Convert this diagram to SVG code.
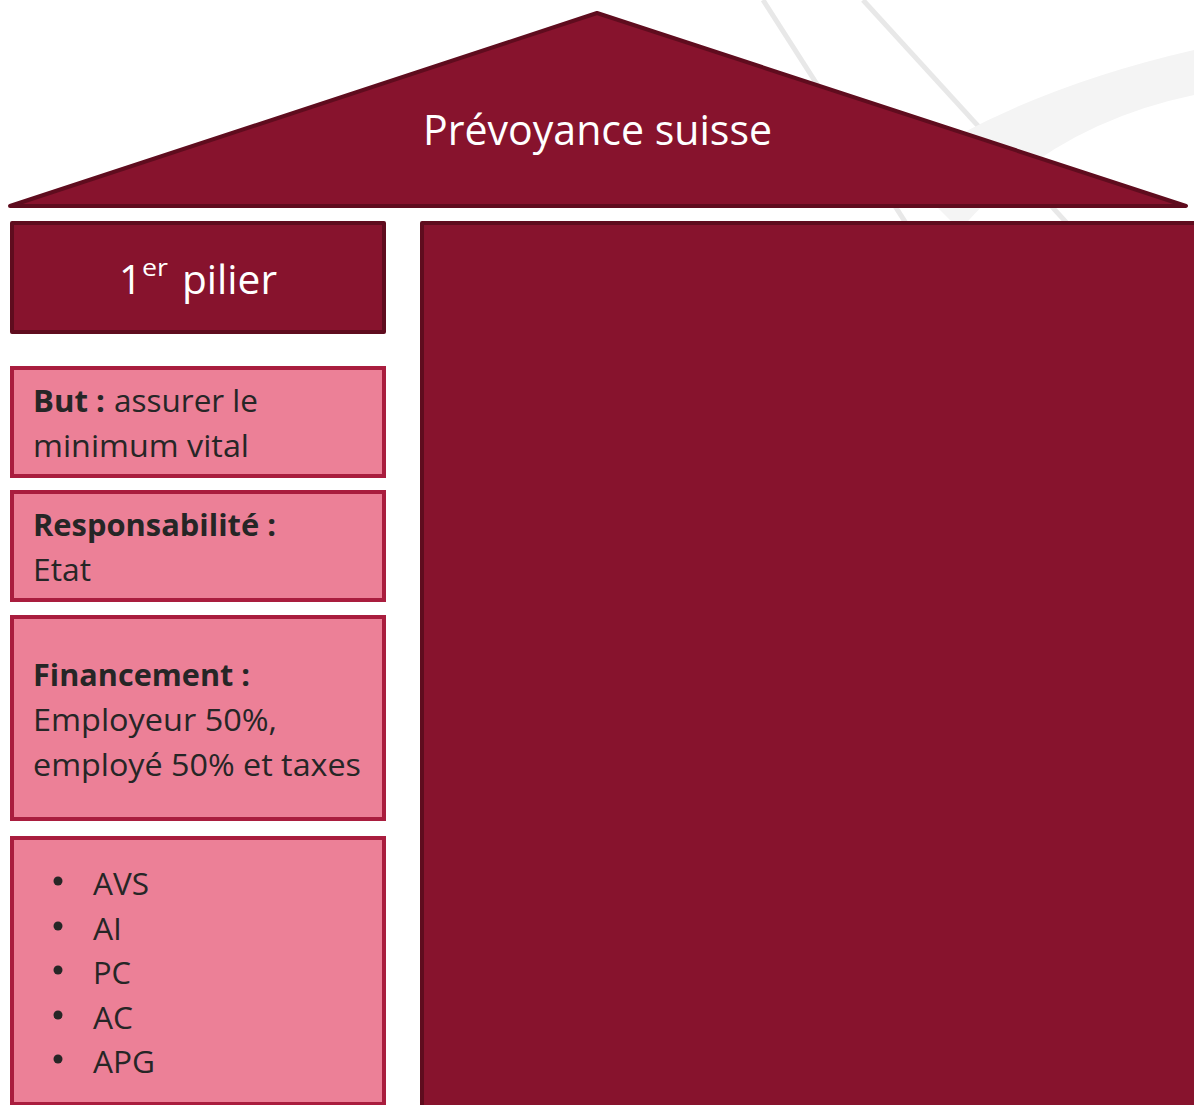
<svg xmlns="http://www.w3.org/2000/svg" width="1194" height="1105" viewBox="0 0 1194 1105">
<style>
.dark{fill:#87132d;stroke:#5f0c1e;stroke-width:4;stroke-linejoin:round}
.pink{fill:#ec8097;stroke:#a91d3e;stroke-width:4}
.wt{font-family:"Open Sans","Noto Sans",sans-serif;fill:#ffffff}
.bt{font-family:"Open Sans","Noto Sans",sans-serif;fill:#262626;font-size:31px}
.b{font-weight:bold}
.deco{fill:none;stroke:#e8e8e8;stroke-width:5}
</style>
<rect width="1194" height="1105" fill="#ffffff"/>
<g id="background">
<path class="deco" d="M763 0 L1000 370"/>
<path class="deco" d="M863 0 L1150 314"/>
<path d="M900 170 Q1020 90 1194 50 L1194 95 Q1050 125 960 230 Z" fill="#f4f4f4"/>
</g>
<g id="roof">
<polygon class="dark" points="597,13 1186,206 10,206"/>
<text class="wt" x="423" y="145" font-size="42" textLength="349" lengthAdjust="spacingAndGlyphs">Prévoyance suisse</text>
</g>
<g id="pilier1-title">
<rect class="dark" x="12" y="223" width="372" height="109"/>
<text class="wt" x="119" y="294" font-size="40">1</text>
<text class="wt" x="142" y="276" font-size="24" textLength="26" lengthAdjust="spacingAndGlyphs">er</text>
<text class="wt" x="182" y="294" font-size="40" textLength="95" lengthAdjust="spacingAndGlyphs">pilier</text>
</g>
<g id="pilier-right">
<rect class="dark" x="422" y="223" width="780" height="890"/>
</g>
<g id="but">
<rect class="pink" x="12" y="368" width="372" height="108"/>
<text class="bt b" x="33" y="412" textLength="72" lengthAdjust="spacingAndGlyphs">But :</text>
<text class="bt" x="114" y="412" textLength="144" lengthAdjust="spacingAndGlyphs">assurer le</text>
<text class="bt" x="33" y="457" textLength="216" lengthAdjust="spacingAndGlyphs">minimum vital</text>
</g>
<g id="responsabilite">
<rect class="pink" x="12" y="492" width="372" height="108"/>
<text class="bt b" x="33" y="536" textLength="243" lengthAdjust="spacingAndGlyphs">Responsabilité :</text>
<text class="bt" x="33" y="581" textLength="58" lengthAdjust="spacingAndGlyphs">Etat</text>
</g>
<g id="financement">
<rect class="pink" x="12" y="617" width="372" height="202"/>
<text class="bt b" x="33" y="686" textLength="217" lengthAdjust="spacingAndGlyphs">Financement :</text>
<text class="bt" x="33" y="731" textLength="244" lengthAdjust="spacingAndGlyphs">Employeur 50%,</text>
<text class="bt" x="33" y="776" textLength="328" lengthAdjust="spacingAndGlyphs">employé 50% et taxes</text>
</g>
<g id="assurances">
<rect class="pink" x="12" y="838" width="372" height="266"/>
<g fill="#262626">
<circle cx="58" cy="881" r="4.5"/>
<circle cx="58" cy="926" r="4.5"/>
<circle cx="58" cy="970" r="4.5"/>
<circle cx="58" cy="1015" r="4.5"/>
<circle cx="58" cy="1059" r="4.5"/>
</g>
<text class="bt" x="93" y="895" textLength="56" lengthAdjust="spacingAndGlyphs">AVS</text>
<text class="bt" x="93" y="940" textLength="29" lengthAdjust="spacingAndGlyphs">AI</text>
<text class="bt" x="93" y="984" textLength="38" lengthAdjust="spacingAndGlyphs">PC</text>
<text class="bt" x="93" y="1029" textLength="40" lengthAdjust="spacingAndGlyphs">AC</text>
<text class="bt" x="93" y="1073" textLength="62" lengthAdjust="spacingAndGlyphs">APG</text>
</g>
<g id="connectors"></g>
</svg>
